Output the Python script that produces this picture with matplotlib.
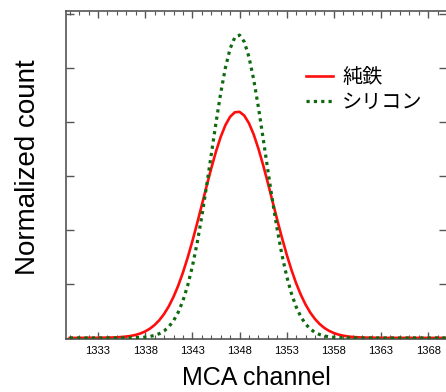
import matplotlib
matplotlib.use("Agg")
import matplotlib.pyplot as plt
from matplotlib.ticker import MultipleLocator, NullFormatter

channels = [1330, 1333, 1335,
            1336, 1336.5, 1337, 1337.5, 1338, 1338.5, 1339, 1339.5, 1340, 1340.5,
            1341, 1341.5, 1342, 1342.5, 1343, 1343.5, 1344, 1344.5, 1345, 1345.5,
            1346, 1346.5, 1347, 1347.5, 1348, 1348.5, 1349, 1349.5, 1350, 1350.5,
            1351, 1351.5, 1352, 1352.5, 1353, 1353.5, 1354, 1354.5, 1355, 1355.5,
            1356, 1356.5, 1357, 1357.5, 1358, 1358.5, 1359, 1359.5, 1360,
            1361, 1363, 1370]
# 純鉄 (pure iron)
iron = [0.0, 0.002, 0.010,
        0.025, 0.038, 0.056, 0.083, 0.121, 0.172, 0.240, 0.329, 0.443, 0.585,
        0.760, 0.968, 1.210, 1.485, 1.790, 2.117, 2.458, 2.803, 3.137, 3.447,
        3.718, 3.937, 4.092, 4.176, 4.184, 4.115, 3.973, 3.766, 3.504, 3.201,
        2.871, 2.527, 2.184, 1.853, 1.544, 1.262, 1.013, 0.799, 0.618, 0.469,
        0.350, 0.256, 0.184, 0.130, 0.090, 0.061, 0.041, 0.027, 0.017,
        0.007, 0.001, 0.0]
# シリコン (silicon)
silicon = [0.0, 0.0, 0.0,
           0.001, 0.002, 0.004, 0.008, 0.015, 0.027, 0.047, 0.079, 0.129, 0.206,
           0.317, 0.474, 0.688, 0.968, 1.322, 1.750, 2.249, 2.804, 3.390, 3.977,
           4.527, 4.997, 5.353, 5.561, 5.605, 5.480, 5.199, 4.784, 4.270, 3.698,
           3.107, 2.532, 2.002, 1.535, 1.142, 0.824, 0.577, 0.392, 0.258, 0.165,
           0.102, 0.062, 0.036, 0.020, 0.011, 0.006, 0.003, 0.001, 0.001,
           0.0, 0.0, 0.0]
labels = ["純鉄", "シリコン"]
xlabel = "MCA channel"
ylabel = "Normalized count"

W, H = 446, 392
fig = plt.figure(figsize=(W / 100, H / 100), dpi=100)
ax = fig.add_axes([66 / W, 1 - 339 / H, (447 - 66) / W, (339 - 11) / H])

ax.plot(channels, iron, color="#ff0d0d", lw=1.9, label=labels[0], zorder=2)
ax.plot(channels, silicon, color="#0f6a0f", lw=2.3, ls=(0, (1, 1.3)),
        label=labels[1], zorder=3)

ax.set_xlim(1329.6, 1370.0)
ax.set_ylim(-0.02, 6.05)

spine_c = "#555555"
for s in ax.spines.values():
    s.set_color(spine_c)
    s.set_linewidth(1.2)

ax.xaxis.set_major_locator(MultipleLocator(5, offset=3))
ax.xaxis.set_minor_locator(MultipleLocator(1))
ax.yaxis.set_major_locator(MultipleLocator(1))
ax.yaxis.set_major_formatter(NullFormatter())

ax.tick_params(axis="x", which="major", direction="in", top=True, bottom=True,
               length=5, width=1.0, color=spine_c, labelsize=8, pad=5)
ax.tick_params(axis="x", which="minor", direction="in", top=True, bottom=True,
               length=3, width=0.8, color=spine_c)
ax.tick_params(axis="y", which="major", direction="in", left=True, right=True,
               length=6, width=1.0, color=spine_c)
for t in ax.get_xticklabels():
    t.set_fontfamily(["Liberation Sans", "DejaVu Sans"])

fig.text((66 + 447) / 2 / W, 1 - 378 / H, xlabel, ha="center", va="center",
         fontsize=18, family=["Liberation Sans", "DejaVu Sans"])
fig.text(28 / W, 1 - 167 / H, ylabel, ha="center", va="center", rotation=90,
         fontsize=20, family=["Liberation Sans", "DejaVu Sans"])

leg = fig.legend(loc="upper left", bbox_to_anchor=(306 / W, 1 - 67 / H),
                 frameon=False, borderpad=0, borderaxespad=0,
                 handlelength=1.35, handletextpad=0.45, labelspacing=0.2,
                 prop={"family": ["Noto Sans CJK JP", "DejaVu Sans"], "size": 14.5})

fig.savefig("out.png", dpi=100)
